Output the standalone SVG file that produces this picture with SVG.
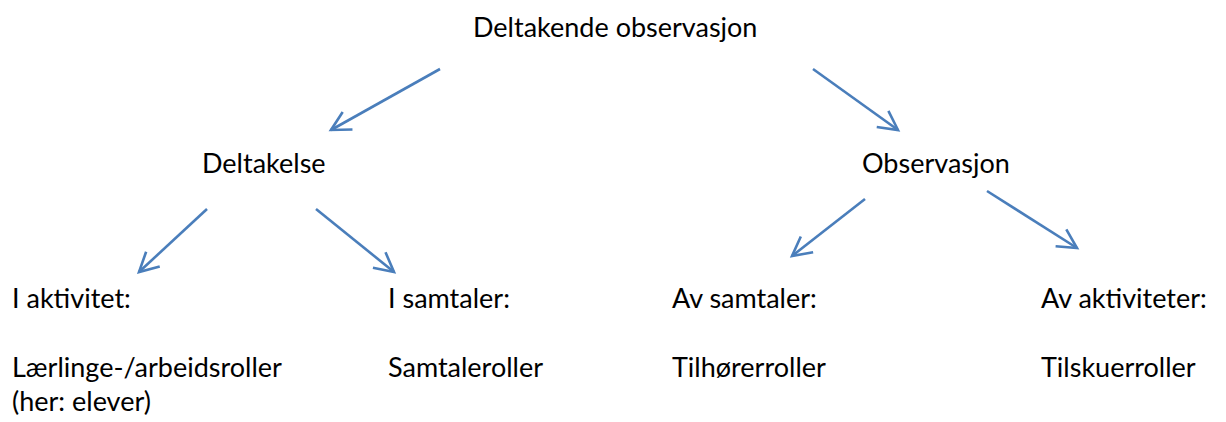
<svg xmlns="http://www.w3.org/2000/svg" width="1226" height="422" viewBox="0 0 1226 422">
  <style>
    .lbl { font-family: Lato, "Liberation Sans", sans-serif; font-size: 27px; fill: #000000; }
    .arr { stroke: #4a7ebb; stroke-width: 2.6; fill: none; }
  </style>
  <defs>
    <!-- open chevron arrowhead, sized in user units -->
    <marker id="chev" markerUnits="userSpaceOnUse" viewBox="-24 -14 28 28" markerWidth="28" markerHeight="28" refX="0" refY="0" orient="auto" overflow="visible">
      <path d="M -19,-10 L 0,0 L -19,10" fill="none" stroke="#4a7ebb" stroke-width="2.6" stroke-linejoin="miter"/>
    </marker>
  </defs>
  <rect width="1226" height="422" fill="#ffffff"/>

  <g id="connectors">
    <line class="arr" x1="440" y1="69" x2="331" y2="130" marker-end="url(#chev)"/>
    <line class="arr" x1="813" y1="69" x2="898" y2="130" marker-end="url(#chev)"/>
    <line class="arr" x1="207" y1="209" x2="139" y2="272" marker-end="url(#chev)"/>
    <line class="arr" x1="316" y1="209" x2="394" y2="272" marker-end="url(#chev)"/>
    <line class="arr" x1="865" y1="199" x2="792" y2="256" marker-end="url(#chev)"/>
    <line class="arr" x1="987" y1="191" x2="1077" y2="248" marker-end="url(#chev)"/>
  </g>

  <g id="root">
    <text class="lbl" x="473" y="37">Deltakende observasjon</text>
  </g>
  <g id="deltakelse">
    <text class="lbl" x="202" y="173">Deltakelse</text>
  </g>
  <g id="observasjon">
    <text class="lbl" x="862" y="173">Observasjon</text>
  </g>
  <g id="i-aktivitet">
    <text class="lbl" x="12" y="308">I aktivitet:</text>
    <text class="lbl" x="12" y="377">Lærlinge-/arbeidsroller</text>
    <text class="lbl" x="12" y="411">(her: elever)</text>
  </g>
  <g id="i-samtaler">
    <text class="lbl" x="388" y="308">I samtaler:</text>
    <text class="lbl" x="388" y="377">Samtaleroller</text>
  </g>
  <g id="av-samtaler">
    <text class="lbl" x="672" y="308">Av samtaler:</text>
    <text class="lbl" x="672" y="377">Tilhørerroller</text>
  </g>
  <g id="av-aktiviteter">
    <text class="lbl" x="1041" y="308">Av aktiviteter:</text>
    <text class="lbl" x="1041" y="377">Tilskuerroller</text>
  </g>
</svg>
